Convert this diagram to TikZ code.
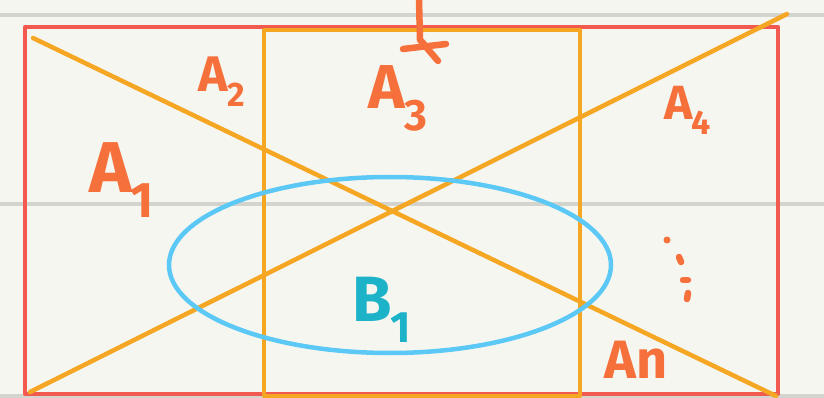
\documentclass[tikz,border=0pt]{standalone}
\usepackage{fontspec}
\setmainfont{Fira Sans}
\definecolor{bgc}{HTML}{F6F6F1}
\definecolor{rulec}{HTML}{D3D4CE}
\definecolor{redc}{HTML}{F25A50}
\definecolor{orc}{HTML}{F5A623}
\definecolor{labc}{HTML}{F5703A}
\definecolor{bluec}{HTML}{5BC8F5}
\definecolor{tealc}{HTML}{1CB3C9}
\begin{document}
\begin{tikzpicture}[x=1pt,y=-1pt,
  rulel/.style={draw=rulec,line width=4.5pt},
  setbox/.style={line width=4.5pt,line join=round},
  lab/.style={text=labc,inner sep=0pt,anchor=center},
  scrib/.style={draw=labc,line width=6.5pt,line cap=round,line join=round}]
\fill[bgc] (0,0) rectangle (824,398);
\useasboundingbox (0,0) rectangle (824,398);
% ruled lines
\draw[rulel] (0,15) -- (824,15);
\draw[rulel] (0,204) -- (824,204);
\draw[rulel] (0,396) -- (824,396);
% red outer rectangle
\node[draw=redc,setbox,minimum width=753pt,minimum height=367pt,inner sep=0pt] (U) at (401.5,210.5) {};
% orange square
\node[draw=orc,setbox,minimum width=316pt,minimum height=366pt,inner sep=0pt] (S) at (422,213) {};
% diagonals
\coordinate (d1a) at (33,38);
\coordinate (d1b) at (776,396);
\coordinate (d2a) at (30,392);
\coordinate (d2b) at (787,14);
\draw[orc,line width=4.5pt,line cap=round] (d1a) -- (d1b);
\draw[orc,line width=4.5pt,line cap=round] (d2a) -- (d2b);
% ellipse
\draw[bluec,line width=4.5pt] (390,265) ellipse [x radius=221, y radius=88];
% labels
\node[lab,font=\bfseries\fontsize{72}{72}\selectfont] (A1) at (122,180) {A\kern-2pt\textsubscript{\fontsize{50}{50}\selectfont 1}};
\node[lab,font=\bfseries\fontsize{50}{50}\selectfont] (A2) at (222,82) {A\kern-1pt\textsubscript{\fontsize{34}{34}\selectfont 2}};
\node[lab,font=\bfseries\fontsize{62}{62}\selectfont] (A3) at (398,98) {A\kern-1pt\textsubscript{\fontsize{44}{44}\selectfont 3}};
\node[lab,font=\bfseries\fontsize{48}{48}\selectfont] (A4) at (688,110) {A\kern-1pt\textsubscript{\fontsize{34}{34}\selectfont 4}};
\node[lab,font=\bfseries\fontsize{54}{54}\selectfont] (An) at (636,360) {An};
\node[lab,text=tealc,font=\bfseries\fontsize{64}{64}\selectfont] (B1) at (382,310) {B\kern-1pt\textsubscript{\fontsize{44}{44}\selectfont 1}};
% vertical dots
\fill[labc] (667,240) circle (3.5);
\draw[scrib] (679,257) -- (681,262);
\draw[scrib] (683,280) -- (688,280);
\draw[scrib] (688,293) -- (687,299);
% top scribble arrow
\coordinate (s0) at (419,0);
\coordinate (s1) at (420,40);
\draw[scrib] (s0) -- (s1) -- (424,44);
\draw[scrib] (403,49) -- (420,47) -- (446,44);
\draw[scrib] (426,47) -- (438,61);
\end{tikzpicture}
\end{document}
